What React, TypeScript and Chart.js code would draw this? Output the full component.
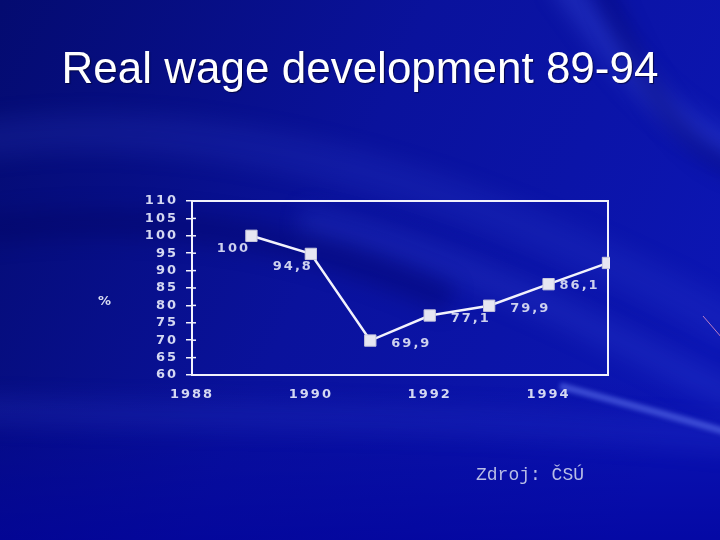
import React, { useEffect, useRef } from "react";
import { Chart, registerables } from "chart.js";

Chart.register(...registerables);

// ---- data ----
const years = [1989, 1990, 1991, 1992, 1993, 1994, 1995];
const wageIndex = [100, 94.8, 69.9, 77.1, 79.9, 86.1, 92.2];
const pointLabels = ["100", "94,8", "69,9", "77,1", "79,9", "86,1", ""];
const labelPlacement = ["below-left", "below-left", "right", "right", "right", "right-tight", "none"];
const xTickValues = [1988, 1990, 1992, 1994];
const yMin = 60;
const yMax = 110;
const yStep = 5;
const xMin = 1988;
const xMax = 1995;

const titleText = "Real wage development 89-94";
const unitText = "%";
const sourceText = "Zdroj: ČSÚ";

// ---- styles ----
const placementStyle: Record<string, { dx: number; dy: number; align: CanvasTextAlign }> = {
  "below-left": { dx: -18, dy: 13, align: "center" },
  right: { dx: 21, dy: 3, align: "left" },
  "right-tight": { dx: 11, dy: 1, align: "left" },
};
const tickColor = "#d4d8f2";
const lineColor = "#f2f2fc";
const tickFont = { family: "'DejaVu Sans', sans-serif", size: 13, weight: "bold" as const };

const backgroundPlugin = {
  id: "slideBackground",
  beforeDraw(chart: any) {
    const { ctx, width, height } = chart;
    ctx.save();
    const g = ctx.createLinearGradient(0, 0, width, height * 0.6);
    g.addColorStop(0, "#040b70");
    g.addColorStop(0.5, "#0a129c");
    g.addColorStop(1, "#0c16b4");
    ctx.fillStyle = g;
    ctx.fillRect(0, 0, width, height);
    const g2 = ctx.createLinearGradient(0, height * 0.7, 0, height);
    g2.addColorStop(0, "rgba(0,0,160,0)");
    g2.addColorStop(1, "rgba(0,0,155,0.6)");
    ctx.fillStyle = g2;
    ctx.fillRect(0, 0, width, height);

    ctx.filter = "blur(10px)";
    const band = (pts: number[], w: number, color: string) => {
      ctx.beginPath();
      ctx.moveTo(pts[0], pts[1]);
      ctx.bezierCurveTo(pts[2], pts[3], pts[4], pts[5], pts[6], pts[7]);
      ctx.lineWidth = w;
      ctx.strokeStyle = color;
      ctx.stroke();
    };
    band([-20, 140, 200, 110, 450, 170, 740, 330], 40, "rgba(60,80,220,0.15)");
    band([-20, 410, 200, 420, 450, 410, 740, 440], 30, "rgba(60,80,220,0.15)");
    band([300, 220, 450, 250, 600, 330, 740, 400], 30, "rgba(60,80,220,0.2)");
    band([560, -20, 620, 60, 660, 120, 740, 150], 26, "rgba(70,90,230,0.3)");
    band([-20, 230, 150, 210, 300, 230, 450, 300], 30, "rgba(0,0,90,0.3)");
    band([600, -20, 640, 80, 680, 150, 740, 170], 14, "rgba(0,0,90,0.4)");
    ctx.filter = "blur(2px)";
    band([560, 386, 620, 402, 680, 418, 740, 436], 7, "rgba(90,110,235,0.6)");
    ctx.filter = "none";
    ctx.beginPath();
    ctx.moveTo(703, 316);
    ctx.lineTo(722, 338);
    ctx.lineWidth = 1;
    ctx.strokeStyle = "rgba(230,150,200,0.8)";
    ctx.stroke();
    ctx.restore();
    ctx.letterSpacing = "2px";
  },
};

const frameAndLabelsPlugin = {
  id: "frameAndLabels",
  beforeDatasetsDraw(chart: any) {
    const { ctx, chartArea } = chart;
    const { left, top, right, bottom } = chartArea;
    ctx.save();
    ctx.strokeStyle = lineColor;
    ctx.lineWidth = 2;
    ctx.strokeRect(left, top, right - left, bottom - top);
    const yScale = chart.scales.y;
    ctx.lineWidth = 1.5;
    yScale.ticks.forEach((t: any) => {
      const py = yScale.getPixelForValue(t.value);
      ctx.beginPath();
      ctx.moveTo(left, py);
      ctx.lineTo(left + 4, py);
      ctx.stroke();
    });
    ctx.restore();
  },
  afterDatasetsDraw(chart: any) {
    const { ctx } = chart;
    const meta = chart.getDatasetMeta(0);
    ctx.save();
    ctx.letterSpacing = "2px";
    ctx.font = `bold 13px 'DejaVu Sans', sans-serif`;
    ctx.fillStyle = "#cdd1ee";
    ctx.textBaseline = "middle";
    meta.data.forEach((pt: any, i: number) => {
      const st = placementStyle[labelPlacement[i]];
      if (!st || !pointLabels[i]) return;
      ctx.textAlign = st.align;
      ctx.fillText(pointLabels[i], pt.x + st.dx, pt.y + st.dy);
    });
    ctx.restore();
  },
};

export default function App() {
  const canvasRef = useRef<HTMLCanvasElement | null>(null);

  useEffect(() => {
    document.body.style.margin = "0";
    const canvas = canvasRef.current;
    if (!canvas) return;
    const chart = new Chart(canvas, {
      type: "line",
      data: {
        datasets: [
          {
            label: "Real wage index",
            data: years.map((y, i) => ({ x: y, y: wageIndex[i] })),
            borderColor: lineColor,
            borderWidth: 2.5,
            pointStyle: "rect",
            pointRadius: 8,
            pointBackgroundColor: "#e6e6f2",
            pointBorderColor: "#c8c8dc",
            pointBorderWidth: 1,
            tension: 0,
            clip: 2,
          },
        ],
      },
      options: {
        animation: false,
        responsive: false,
        layout: { padding: { left: 100, right: 112, top: 201, bottom: 125 } },
        plugins: {
          legend: { display: false },
          tooltip: { enabled: false },
          title: { display: false },
        },
        scales: {
          x: {
            type: "linear",
            min: xMin,
            max: xMax,
            afterBuildTicks: (s: any) => {
              s.ticks = xTickValues.map((v) => ({ value: v }));
            },
            afterFit: (s: any) => {
              s.height = 40;
            },
            ticks: {
              color: tickColor,
              font: tickFont,
              padding: 4,
              maxRotation: 0,
              autoSkip: false,
              callback: (v: any) => String(v),
            },
            grid: { display: false },
            border: { display: false },
          },
          y: {
            type: "linear",
            min: yMin,
            max: yMax,
            afterFit: (s: any) => {
              s.width = 92;
            },
            ticks: {
              stepSize: yStep,
              color: tickColor,
              font: tickFont,
              padding: 8,
              autoSkip: false,
            },
            grid: {
              drawOnChartArea: false,
              tickLength: 6,
              color: lineColor,
              lineWidth: 1.5,
            },
            border: { display: false },
          },
        },
      },
      plugins: [backgroundPlugin, frameAndLabelsPlugin],
    });
    return () => chart.destroy();
  }, []);

  return (
    <div style={{ position: "fixed", left: 0, top: 0, width: 720, height: 540, overflow: "hidden" }}>
      <canvas ref={canvasRef} width={720} height={540} style={{ display: "block" }} />
      <div
        style={{
          position: "absolute",
          left: 0,
          top: 46,
          width: 720,
          textAlign: "center",
          fontFamily: "'Liberation Sans', Arial, sans-serif",
          fontSize: 44,
          lineHeight: 1,
          color: "#ffffff",
          textShadow: "1px 1px 1px rgba(0,0,40,0.7)",
          whiteSpace: "nowrap",
        }}
      >
        {titleText}
      </div>
      <div
        style={{
          position: "absolute",
          left: 98,
          top: 294,
          fontFamily: "'DejaVu Sans', sans-serif",
          fontWeight: "bold",
          fontSize: 13,
          lineHeight: 1,
          color: "#d8dcf2",
        }}
      >
        {unitText}
      </div>
      <div
        style={{
          position: "absolute",
          left: 476,
          top: 466,
          fontFamily: "'Liberation Mono', monospace",
          fontSize: 18,
          lineHeight: 1,
          color: "#b8bde6",
          whiteSpace: "nowrap",
        }}
      >
        {sourceText}
      </div>
    </div>
  );
}
